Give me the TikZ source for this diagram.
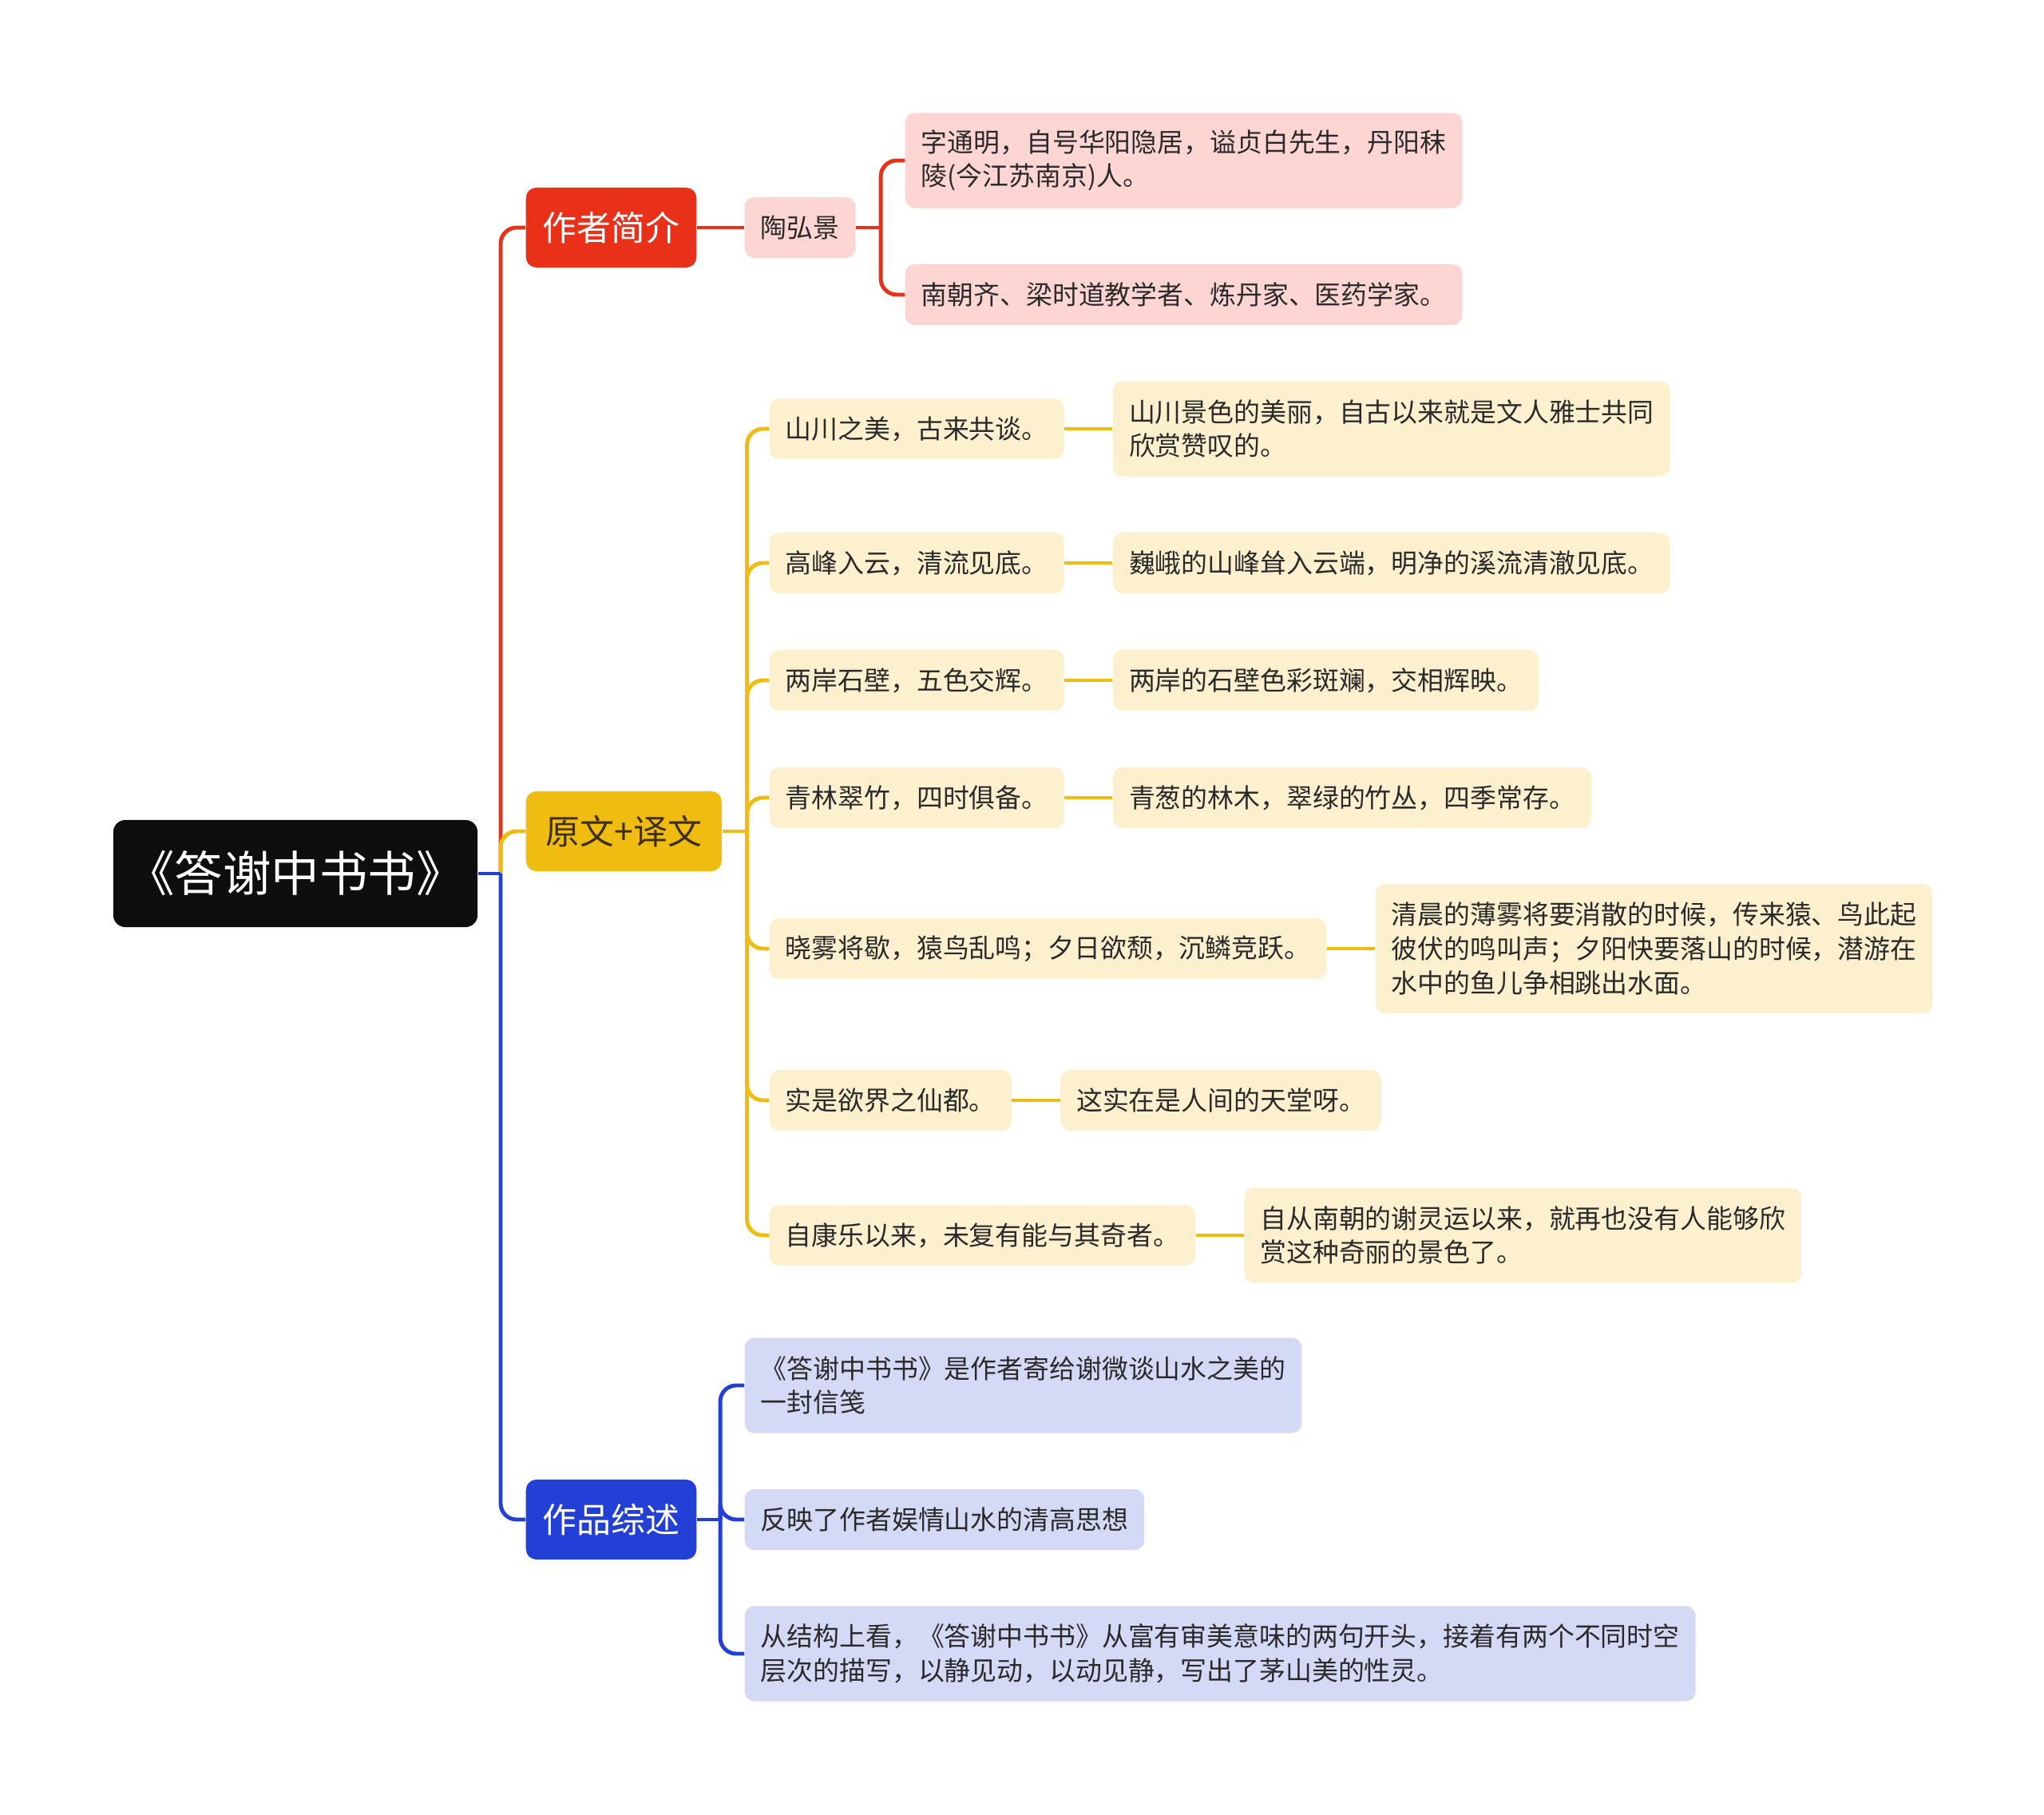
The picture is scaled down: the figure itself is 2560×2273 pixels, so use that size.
\documentclass[tikz,border=0pt]{standalone}
\usepackage{fontspec}
\setmainfont{Noto Sans CJK SC}
\usetikzlibrary{positioning}
\definecolor{rootbk}{HTML}{0E0E0E}
\definecolor{redmain}{HTML}{E9311A}
\definecolor{redsoft}{HTML}{FDD6D4}
\definecolor{ylwmain}{HTML}{F1BC12}
\definecolor{ylwsoft}{HTML}{FDF0CF}
\definecolor{ylwink}{HTML}{3B2F0A}
\definecolor{blumain}{HTML}{2340D6}
\definecolor{blusoft}{HTML}{D4D9F6}
\definecolor{ink}{HTML}{2A2A2A}

\tikzset{
  topic/.style={rounded corners=0.13cm, inner xsep=0.21cm, inner ysep=0pt, minimum height=1cm,
    font=\fontsize{12.2pt}{14pt}\selectfont},
  leaf/.style={rounded corners=0.12cm, inner xsep=0.2cm, inner ysep=0pt, minimum height=0.76cm,
    align=left, text=ink, font=\fontsize{9.35pt}{12.1pt}\selectfont},
  twoline/.style={minimum height=1.19cm},
  threeline/.style={minimum height=1.62cm},
  wire/.style={line width=1.4pt},
  branch/.style={line width=1.4pt, rounded corners=0.2cm},
}

\begin{document}
\begin{tikzpicture}[x=0.01cm, y=-0.01cm]
\useasboundingbox (0,0) rectangle (2560,2273);

% root
\node[topic, fill=rootbk, text=white, inner xsep=0pt, minimum width=4.56cm, minimum height=1.34cm,
  rounded corners=0.15cm, font=\fontsize{17.2pt}{20pt}\selectfont] (book) at (370,1094) {《答谢中书书》};
\coordinate (hub) at (627,1094);

% 作者简介
\node[topic, fill=redmain, text=white, anchor=west] (author) at (658,285) {作者简介};
\node[leaf, fill=redsoft, anchor=west] (tao) at (932,285) {陶弘景};
\node[leaf, twoline, fill=redsoft, anchor=west] (tao1) at (1133,201)
  {字通明，自号华阳隐居，谥贞白先生，丹阳秣\\陵(今江苏南京)人。};
\node[leaf, fill=redsoft, anchor=west] (tao2) at (1133,369) {南朝齐、梁时道教学者、炼丹家、医药学家。};
\coordinate (taohub) at ([xshift=0.31cm]tao.east);

% 原文+译文
\node[topic, fill=ylwmain, text=ylwink, minimum width=2.45cm, anchor=west] (text) at (658,1041) {原文+译文};
\coordinate (texthub) at ([xshift=0.31cm]text.east);
\node[leaf, fill=ylwsoft, anchor=west] (yuan1) at (963,537) {山川之美，古来共谈。};
\node[leaf, fill=ylwsoft, anchor=west] (yuan2) at (963,705) {高峰入云，清流见底。};
\node[leaf, fill=ylwsoft, anchor=west] (yuan3) at (963,852) {两岸石壁，五色交辉。};
\node[leaf, fill=ylwsoft, anchor=west] (yuan4) at (963,999) {青林翠竹，四时俱备。};
\node[leaf, fill=ylwsoft, anchor=west] (yuan5) at (963,1188) {晓雾将歇，猿鸟乱鸣；夕日欲颓，沉鳞竞跃。};
\node[leaf, fill=ylwsoft, anchor=west] (yuan6) at (963,1378) {实是欲界之仙都。};
\node[leaf, fill=ylwsoft, anchor=west] (yuan7) at (963,1547) {自康乐以来，未复有能与其奇者。};
\node[leaf, twoline, fill=ylwsoft, right=0.6cm of yuan1] (yi1)
  {山川景色的美丽，自古以来就是文人雅士共同\\欣赏赞叹的。};
\node[leaf, fill=ylwsoft, right=0.6cm of yuan2] (yi2) {巍峨的山峰耸入云端，明净的溪流清澈见底。};
\node[leaf, fill=ylwsoft, right=0.6cm of yuan3] (yi3) {两岸的石壁色彩斑斓，交相辉映。};
\node[leaf, fill=ylwsoft, right=0.6cm of yuan4] (yi4) {青葱的林木，翠绿的竹丛，四季常存。};
\node[leaf, threeline, fill=ylwsoft, right=0.6cm of yuan5] (yi5)
  {清晨的薄雾将要消散的时候，传来猿、鸟此起\\彼伏的鸣叫声；夕阳快要落山的时候，潜游在\\水中的鱼儿争相跳出水面。};
\node[leaf, fill=ylwsoft, right=0.6cm of yuan6] (yi6) {这实在是人间的天堂呀。};
\node[leaf, twoline, fill=ylwsoft, right=0.6cm of yuan7] (yi7)
  {自从南朝的谢灵运以来，就再也没有人能够欣\\赏这种奇丽的景色了。};

% 作品综述
\node[topic, fill=blumain, text=white, anchor=west] (summary) at (658,1903) {作品综述};
\coordinate (sumhub) at ([xshift=0.29cm]summary.east);
\node[leaf, twoline, fill=blusoft, anchor=west] (zs1) at (932,1735)
  {《答谢中书书》是作者寄给谢微谈山水之美的\\一封信笺};
\node[leaf, fill=blusoft, anchor=west] (zs2) at (932,1903) {反映了作者娱情山水的清高思想};
\node[leaf, twoline, fill=blusoft, anchor=west] (zs3) at (932,2071)
  {从结构上看，《答谢中书书》从富有审美意味的两句开头，接着有两个不同时空\\层次的描写，以静见动，以动见静，写出了茅山美的性灵。};

% connectors
\draw[branch, redmain] (hub) |- (author.west);
\draw[branch, ylwmain] (hub) |- (text.west);
\draw[branch, blumain] (hub) |- (summary.west);
\draw[wire, blumain] (book.east) -- (hub);

\draw[wire, redmain] (author.east) -- (tao.west);
\draw[wire, redmain] (tao.east) -- (taohub);
\draw[branch, redmain] (taohub) |- (tao1.west);
\draw[branch, redmain] (taohub) |- (tao2.west);

\draw[wire, ylwmain] (text.east) -- (texthub);
\foreach \i in {1,...,7} {
  \draw[branch, ylwmain] (texthub) |- (yuan\i.west);
  \draw[wire, ylwmain] (yuan\i.east) -- (yi\i.west);
}

\draw[wire, blumain] (summary.east) -- (sumhub);
\foreach \i in {1,2,3}
  \draw[branch, blumain] (sumhub) |- (zs\i.west);
\end{tikzpicture}
\end{document}
